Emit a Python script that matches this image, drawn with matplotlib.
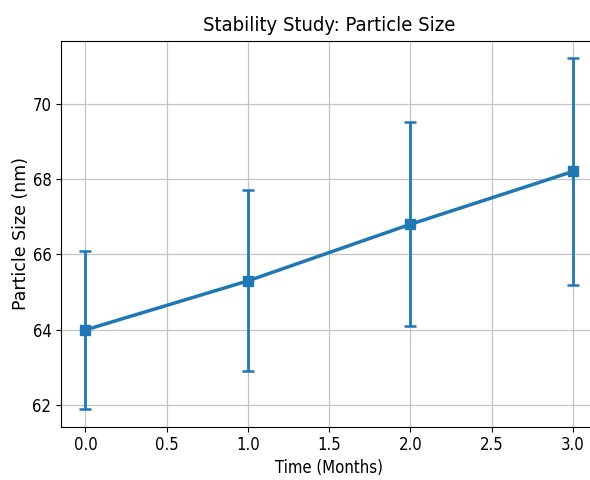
import matplotlib
matplotlib.use("Agg")
import matplotlib.pyplot as plt
from matplotlib import font_manager as fm

# Stability data: mean particle size with standard deviation per time point
months = [0, 1, 2, 3]
particle_size = [64.0, 65.3, 66.8, 68.2]
size_sd = [2.1, 2.4, 2.7, 3.0]

title_text = "Stability Study: Particle Size"
x_label = "Time (Months)"
y_label = "Particle Size (nm)"


def narrow_font():
    """Pick a condensed sans face for horizontal text when one is installed."""
    fonts = fm.fontManager.ttflist
    if any(f.name == "DejaVu Sans Condensed" for f in fonts):
        return {"family": "DejaVu Sans Condensed"}
    if any(f.name == "DejaVu Sans" and "condensed" in str(f.stretch) for f in fonts):
        return {"family": "DejaVu Sans", "stretch": "condensed"}
    return {"family": "DejaVu Sans"}


nf = narrow_font()
color = "#1f77b4"

fig = plt.figure(figsize=(5.9, 4.8), dpi=100)
ax = fig.add_axes([0.1034, 0.111, 0.909, 0.8042])

ax.errorbar(months, particle_size, yerr=size_sd, color=color, marker="s",
            markersize=7, linewidth=2.5, elinewidth=2, capsize=4.5,
            capthick=1.8, zorder=3)

ax.grid(True, color="#c4c4c4", linewidth=0.9)
ax.set_axisbelow(True)
ax.set_xticks([0.0, 0.5, 1.0, 1.5, 2.0, 2.5, 3.0])
ax.set_yticks([62, 64, 66, 68, 70])

for lab in ax.get_xticklabels() + ax.get_yticklabels():
    lab.set_fontfamily(nf["family"])
    if "stretch" in nf:
        lab.set_fontstretch(nf["stretch"])
    lab.set_fontsize(12)

ax.set_title(title_text, fontsize=14.5, pad=7, **nf)
ax.set_xlabel(x_label, fontsize=12, labelpad=3, **nf)
ax.set_ylabel(y_label, fontsize=12.5, family="DejaVu Sans", labelpad=2)

fig.savefig("out.png", dpi=100)
